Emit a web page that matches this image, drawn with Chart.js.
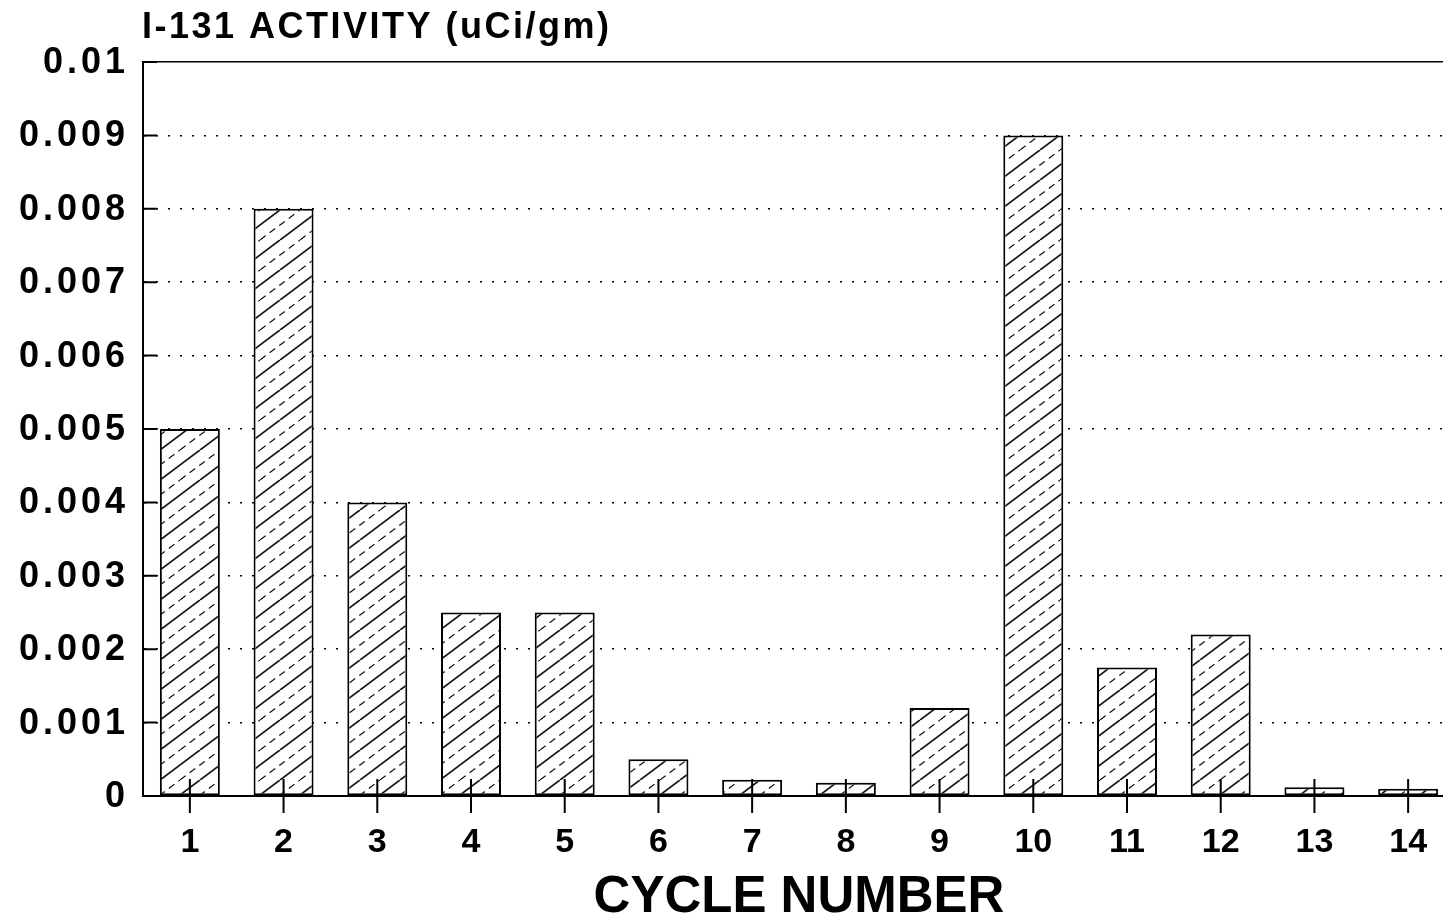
<!DOCTYPE html>
<html>
<head>
<meta charset="utf-8">
<title>I-131 activity by cycle</title>
<script src="https://cdn.jsdelivr.net/npm/chart.js@4.4.1/dist/chart.umd.min.js"></script>
<style>
    html, body { margin: 0; padding: 0; background: #fff; overflow: hidden; }
    canvas { display: block; }
</style>
</head>
<body>
<canvas id="activity-chart" width="1456" height="921"></canvas>
<script>
// --- datos ---
const cycles = ['1', '2', '3', '4', '5', '6', '7', '8', '9', '10', '11', '12', '13', '14'];
const activity = [0.005, 0.008, 0.004, 0.0025, 0.0025, 0.0005, 0.00022, 0.00018, 0.0012, 0.009, 0.00175, 0.0022, 0.00012, 0.0001];
const yTickLabels = ['0', '0.001', '0.002', '0.003', '0.004', '0.005', '0.006', '0.007', '0.008', '0.009', '0.01'];
const yTitle = 'I-131 ACTIVITY (uCi/gm)';
const xTitle = 'CYCLE NUMBER';

const FONT = '"Liberation Sans", Arial, Helvetica, sans-serif';

// Patrón rayado (líneas sólidas y discontinuas alternadas)
function makeHatch(ctx) {
    const w = 40, h = 30;
    const tile = document.createElement('canvas');
    tile.width = w;
    tile.height = h;
    const g = tile.getContext('2d');
    g.fillStyle = '#fff';
    g.fillRect(0, 0, w, h);
    g.strokeStyle = '#111';
    g.lineWidth = 1.7;
    g.beginPath();
    for (let k = -1; k <= 1; k++) {
        g.moveTo(k * w, h);
        g.lineTo(k * w + w, 0);
    }
    g.stroke();
    g.setLineDash([7, 5]);
    g.lineWidth = 1.2;
    g.beginPath();
    for (let k = 0; k <= 1; k++) {
        g.moveTo(k * w - w / 2, h);
        g.lineTo(k * w + w / 2, 0);
    }
    g.stroke();
    return ctx.createPattern(tile, 'repeat');
}

// Marcas de los ejes, etiquetas del eje Y y título superior
const axisMarks = {
    id: 'axisMarks',
    afterDatasetsDraw(chart) {
        const { ctx, chartArea, scales: { x, y } } = chart;
        ctx.save();
        ctx.strokeStyle = '#000';
        ctx.lineWidth = 2;
        ctx.beginPath();
        cycles.forEach((c, i) => {
            const px = x.getPixelForValue(i);
            ctx.moveTo(px, chartArea.bottom - 17);
            ctx.lineTo(px, chartArea.bottom + 17);
        });
        y.ticks.forEach(t => {
            const py = y.getPixelForValue(t.value);
            ctx.moveTo(chartArea.left, py);
            ctx.lineTo(chartArea.left + 14, py);
        });
        ctx.stroke();

        ctx.fillStyle = '#000';
        ctx.font = 'bold 36px ' + FONT;
        ctx.letterSpacing = '4px';
        ctx.textAlign = 'right';
        ctx.textBaseline = 'middle';
        y.ticks.forEach((t, i) => {
            ctx.fillText(yTickLabels[i] || '', chartArea.left - 14, y.getPixelForValue(t.value) + 1);
        });

        ctx.font = 'bold 36px ' + FONT;
        ctx.letterSpacing = '2.5px';
        ctx.textAlign = 'left';
        ctx.textBaseline = 'alphabetic';
        ctx.fillText(yTitle, chartArea.left - 1, 38);
        ctx.restore();
    }
};

const canvas = document.getElementById('activity-chart');
const hatch = makeHatch(canvas.getContext('2d'));

new Chart(canvas, {
    type: 'bar',
    data: {
        labels: cycles,
        datasets: [{
            data: activity,
            backgroundColor: hatch,
            borderColor: '#000',
            borderWidth: 2,
            borderSkipped: false,
            categoryPercentage: 1,
            barPercentage: 0.64
        }]
    },
    options: {
        responsive: false,
        animation: false,
        layout: { padding: { top: 62, right: 1, left: 0, bottom: 0 } },
        plugins: {
            legend: { display: false },
            tooltip: { enabled: false }
        },
        scales: {
            x: {
                grid: { display: false },
                border: { color: '#000', width: 2 },
                ticks: {
                    color: '#000',
                    font: { family: FONT, weight: 'bold', size: 34 },
                    padding: 18,
                    maxRotation: 0
                },
                title: {
                    display: true,
                    text: xTitle,
                    color: '#000',
                    font: { family: FONT, weight: 'bold', size: 51, lineHeight: 0.9 },
                    padding: 0
                },
                afterFit(scale) { scale.height = 125; }
            },
            y: {
                min: 0,
                max: 0.01,
                ticks: { display: false, stepSize: 0.001 },
                grid: {
                    drawTicks: false,
                    lineWidth: 1.6,
                    color: ctx => {
                        if (!ctx.tick) return '#000';
                        return ctx.tick.value === 0 ? 'rgba(0,0,0,0)' : '#000';
                    }
                },
                border: {
                    color: '#000',
                    width: 2,
                    dash: ctx => {
                        if (!ctx.tick) return [];
                        return Math.abs(ctx.tick.value - 0.01) < 1e-9 ? [] : [2, 10];
                    }
                },
                afterFit(scale) { scale.width = 143; }
            }
        }
    },
    plugins: [axisMarks]
});
</script>
</body>
</html>
